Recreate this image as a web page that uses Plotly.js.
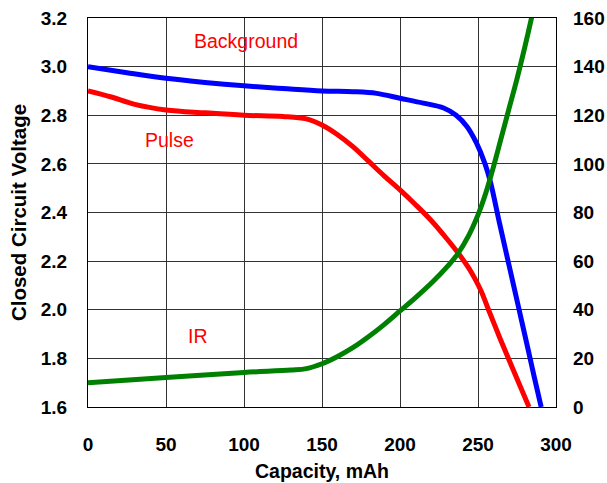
<!DOCTYPE html>
<html>
<head>
<meta charset="utf-8">
<script src="https://cdn.plot.ly/plotly-3.0.1.min.js"></script>
<style>
  html, body { margin: 0; padding: 0; background: #fff; }
  #chart { width: 607px; height: 483px; }
</style>
</head>
<body>
<div id="chart"></div>
<script>
// Background (closed circuit voltage, left axis)
const capBackground = [0, 25, 50, 75, 100, 125, 150, 170, 185, 200, 215, 228, 236, 243, 249, 254.5, 258, 264, 270, 276, 282, 286, 290.5];
const voltBackground = [3.00, 2.975, 2.952, 2.935, 2.921, 2.91, 2.90, 2.897, 2.89, 2.87, 2.85, 2.83, 2.80, 2.753, 2.686, 2.60, 2.525, 2.35, 2.18, 2.01, 1.84, 1.725, 1.60];

// Pulse (closed circuit voltage, left axis)
const capPulse = [0, 15, 30, 50, 75, 100, 125, 140, 150, 160, 170, 180, 190, 200, 210, 220, 230, 238, 244, 248, 252, 257, 264, 270, 275, 282.7];
const voltPulse = [2.90, 2.875, 2.845, 2.822, 2.81, 2.80, 2.795, 2.785, 2.76, 2.72, 2.67, 2.61, 2.55, 2.493, 2.432, 2.367, 2.292, 2.227, 2.172, 2.128, 2.077, 1.996, 1.884, 1.792, 1.716, 1.60];

// IR (right axis)
const capIR = [0, 50, 100, 130, 140, 150, 160, 170, 180, 190, 200, 210, 221, 230, 237, 244, 250, 255, 260, 265, 270, 275, 280, 285];
const valIR = [10, 12.1, 14.2, 15.2, 15.8, 17.8, 20.8, 24.5, 29, 34, 39.5, 45, 51.5, 57.5, 63, 70.5, 79, 88, 99, 111, 123, 135, 148, 162];

// Tick values
const xTicks = [0, 50, 100, 150, 200, 250, 300];
const yTicks = [1.6, 1.8, 2.0, 2.2, 2.4, 2.6, 2.8, 3.0, 3.2];
const y2Ticks = [0, 20, 40, 60, 80, 100, 120, 140, 160];

// Series labels
const labelBackground = 'Background';
const labelPulse = 'Pulse';
const labelIR = 'IR';

const tickFont = { family: 'Liberation Sans, Arial, sans-serif', size: 19, color: '#000', weight: 'bold' };
const lblFont = { family: 'Liberation Sans, Arial, sans-serif', size: 19.5, color: '#ff0000' };

const traces = [
  { x: capIR, y: valIR, yaxis: 'y2', mode: 'lines', name: labelIR,
    line: { color: '#008000', width: 5, shape: 'spline', smoothing: 1 }, hoverinfo: 'skip' },
  { x: capPulse, y: voltPulse, mode: 'lines', name: labelPulse,
    line: { color: '#ff0000', width: 5, shape: 'spline', smoothing: 1 }, hoverinfo: 'skip' },
  { x: capBackground, y: voltBackground, mode: 'lines', name: labelBackground,
    line: { color: '#0000ff', width: 5, shape: 'spline', smoothing: 1 }, hoverinfo: 'skip' }
];

const layout = {
  width: 607, height: 483,
  margin: { l: 88, r: 51, t: 18, b: 76, pad: 0 },
  paper_bgcolor: '#fff', plot_bgcolor: '#fff',
  showlegend: false,
  font: { family: 'Liberation Sans, Arial, sans-serif', color: '#000' },
  xaxis: {
    range: [0, 300], tickvals: xTicks, ticktext: xTicks.map(String),
    showgrid: true, gridcolor: '#333', gridwidth: 1,
    showline: true, linecolor: '#000', linewidth: 1, mirror: true,
    zeroline: false, ticks: '', ticklabelstandoff: 20,
    tickfont: tickFont,
    title: { text: 'Capacity, mAh', font: { family: 'Liberation Sans, Arial, sans-serif', size: 19.5, weight: 'bold', color: '#000' }, standoff: 10 }
  },
  yaxis: {
    range: [1.6, 3.2], tickvals: yTicks, ticktext: yTicks.map(v => v.toFixed(1)),
    showgrid: true, gridcolor: '#333', gridwidth: 1,
    showline: true, linecolor: '#000', linewidth: 1, mirror: true,
    zeroline: false, ticks: '', ticklabelstandoff: 16,
    tickfont: tickFont,
    title: { text: 'Closed Circuit Voltage', font: { family: 'Liberation Sans, Arial, sans-serif', size: 20.5, weight: 'bold', color: '#000' }, standoff: 8 }
  },
  yaxis2: {
    range: [0, 160], tickvals: y2Ticks, ticktext: y2Ticks.map(String),
    overlaying: 'y', side: 'right', showgrid: false, zeroline: false,
    showline: false, ticks: '', ticklabelstandoff: 16,
    tickfont: tickFont
  },
  annotations: [
    { x: 101, y: 3.106, xref: 'x', yref: 'y', text: labelBackground, showarrow: false, font: lblFont, xanchor: 'center', yanchor: 'middle' },
    { x: 52, y: 2.699, xref: 'x', yref: 'y', text: labelPulse, showarrow: false, font: lblFont, xanchor: 'center', yanchor: 'middle' },
    { x: 70.3, y: 1.892, xref: 'x', yref: 'y', text: labelIR, showarrow: false, font: lblFont, xanchor: 'center', yanchor: 'middle' }
  ]
};

Plotly.newPlot('chart', traces, layout, { displayModeBar: false, staticPlot: true });
</script>
</body>
</html>
